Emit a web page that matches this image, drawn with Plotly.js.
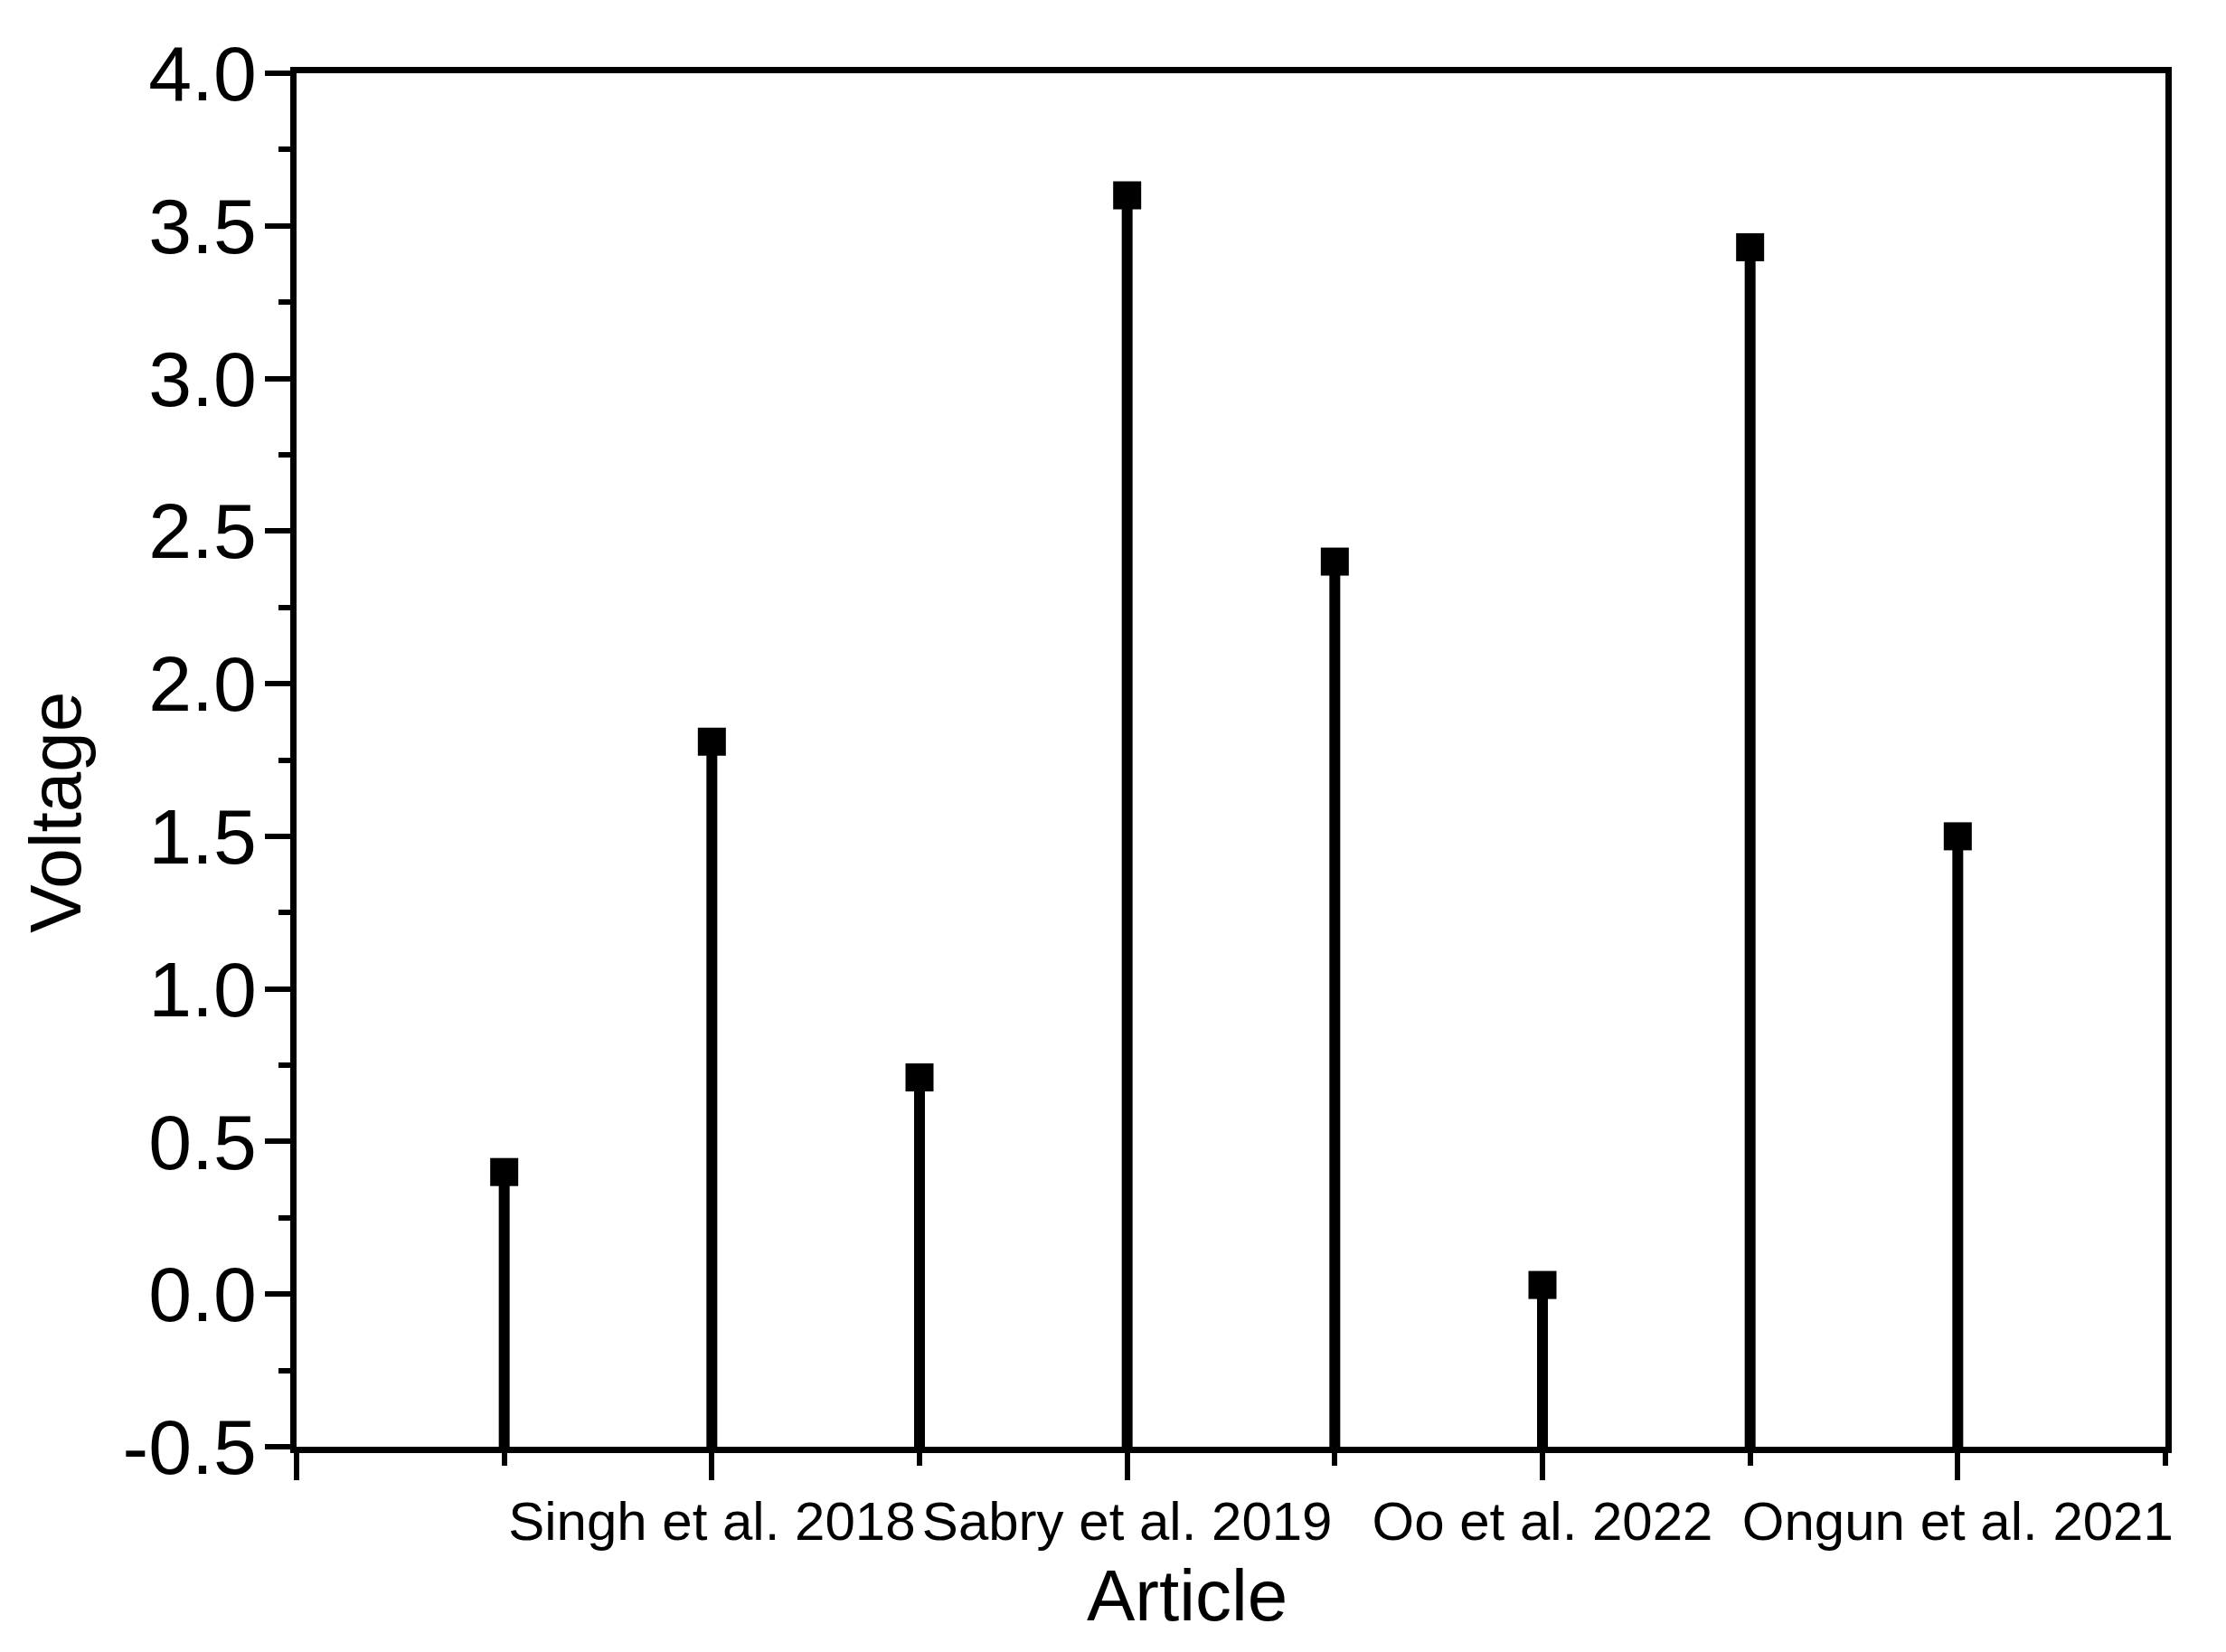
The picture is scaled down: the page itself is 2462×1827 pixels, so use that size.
<!DOCTYPE html>
<html>
<head>
<meta charset="utf-8">
<script src="https://cdn.plot.ly/plotly-3.0.1.min.js"></script>
<style>html,body{margin:0;padding:0;background:#fff;}#chart{width:2462px;height:1827px;}</style>
</head>
<body>
<div id="chart"></div>
<script>
// Data
const articleIndex = [1, 2, 3, 4, 5, 6, 7, 8];
const voltage = [0.40, 1.81, 0.71, 3.60, 2.40, 0.03, 3.43, 1.50];
const xTickVals = [0, 2, 4, 6, 8];
const xTickText = ["", "Singh et al. 2018", "Sabry et al. 2019", "Oo et al. 2022", "Ongun et al. 2021"];
const yTickVals = [-0.5, 0.0, 0.5, 1.0, 1.5, 2.0, 2.5, 3.0, 3.5, 4.0];
const yTickText = ["-0.5", "0.0", "0.5", "1.0", "1.5", "2.0", "2.5", "3.0", "3.5", "4.0"];
const yBase = -0.5;
const xTitle = "Article";
const yTitle = "Voltage";

const FONT = '"Liberation Sans", Arial, sans-serif';

const trace = {
  type: 'scatter',
  mode: 'markers',
  x: articleIndex,
  y: voltage,
  marker: {symbol: 'square', size: 31, color: '#000', line: {width: 0}},
  error_y: {
    type: 'data',
    symmetric: false,
    array: voltage.map(() => 0),
    arrayminus: voltage.map(v => v - yBase),
    color: '#000',
    thickness: 12,
    width: 0
  },
  cliponaxis: false,
  hoverinfo: 'x+y'
};

const layout = {
  width: 2462,
  height: 1827,
  paper_bgcolor: '#fff',
  plot_bgcolor: '#fff',
  showlegend: false,
  margin: {l: 328, r: 67, t: 81, b: 227, pad: 0},
  font: {family: FONT, color: '#000'},
  xaxis: {
    range: [0, 9],
    showgrid: false,
    zeroline: false,
    showline: true,
    linecolor: '#000',
    linewidth: 7,
    mirror: true,
    ticks: 'outside',
    ticklen: 30,
    tickwidth: 6,
    tickcolor: '#000',
    tickvals: xTickVals,
    ticktext: xTickText,
    tickangle: 0,
    ticklabelstandoff: -6,
    tickfont: {family: FONT, size: 60, color: '#000'},
    minor: {dtick: 1, tick0: 0, ticks: 'outside', ticklen: 14, tickwidth: 6, tickcolor: '#000', showgrid: false}
  },
  yaxis: {
    range: [-0.5, 4.0],
    showgrid: false,
    zeroline: false,
    showline: true,
    linecolor: '#000',
    linewidth: 7,
    mirror: true,
    ticks: 'outside',
    ticklen: 28,
    tickwidth: 6,
    tickcolor: '#000',
    tickvals: yTickVals,
    ticktext: yTickText,
    ticklabelstandoff: -8,
    tickfont: {family: FONT, size: 86, color: '#000'},
    minor: {dtick: 0.25, tick0: 0, ticks: 'outside', ticklen: 13, tickwidth: 6, tickcolor: '#000', showgrid: false}
  },
  annotations: [
    {text: xTitle, xref: 'paper', yref: 'paper', x: 0.4765, y: -0.108, xanchor: 'center', yanchor: 'middle',
     showarrow: false, font: {family: FONT, size: 80, color: '#000'}},
    {text: yTitle, xref: 'paper', yref: 'paper', x: -0.1287, y: 0.4623, xanchor: 'center', yanchor: 'middle',
     textangle: -90, showarrow: false, font: {family: FONT, size: 80, color: '#000'}}
  ]
};

Plotly.newPlot('chart', [trace], layout, {displayModeBar: false, staticPlot: true});
</script>
</body>
</html>
